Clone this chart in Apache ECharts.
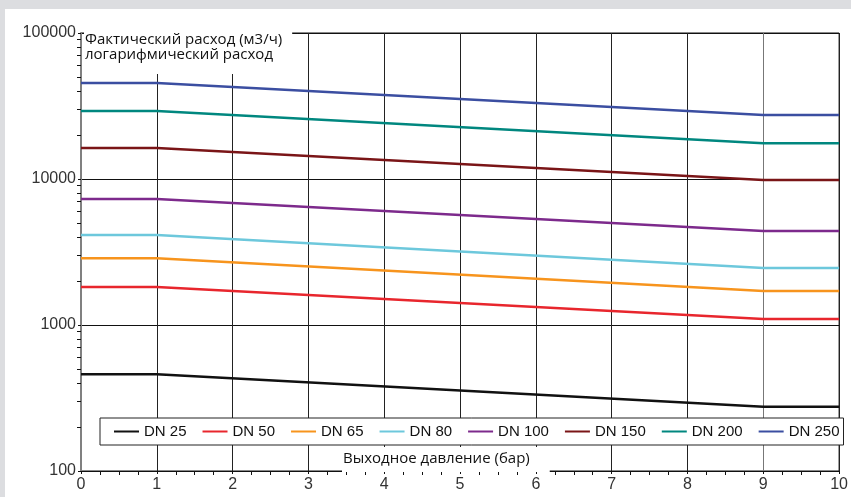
<!DOCTYPE html>
<html>
<head>
<meta charset="utf-8">
<script src="https://cdn.jsdelivr.net/npm/echarts@6/dist/echarts.min.js"></script>
<style>html,body{margin:0;padding:0;background:#dcdde0;}#c{width:851px;height:497px;}</style>
</head>
<body>
<div id="c"></div>
<script>
const pressures = [0, 1, 9, 10];
const seriesNames = ['DN 25', 'DN 50', 'DN 65', 'DN 80', 'DN 100', 'DN 150', 'DN 200', 'DN 250'];
const dn25 = [460, 460, 275, 275];
const dn50 = [1820, 1820, 1100, 1100];
const dn65 = [2870, 2870, 1710, 1710];
const dn80 = [4130, 4130, 2460, 2460];
const dn100 = [7300, 7300, 4400, 4400];
const dn150 = [16300, 16300, 9850, 9850];
const dn200 = [29200, 29200, 17600, 17600];
const dn250 = [45500, 45500, 27400, 27400];
const seriesValues = [dn25, dn50, dn65, dn80, dn100, dn150, dn200, dn250];
const colors = ['#111111', '#e8262d', '#f7941d', '#6dc8dc', '#7d2a8c', '#7a1517', '#00877f', '#3b4ea1'];
const xTicks = [0, 1, 2, 3, 4, 5, 6, 7, 8, 9, 10];
const yTicks = [100, 1000, 10000, 100000];
const yTitle = 'Фактический расход (м3/ч)\nлогарифмический расход';
const xTitle = 'Выходное давление (бар)';

const chart = echarts.init(document.getElementById('c'));
const numFont = 'Liberation Sans';
const txtFont = 'Open Sans';
chart.setOption({
  backgroundColor: '#dcdde0',
  animation: false,
  graphic: [{
    type: 'rect', z: -10, silent: true,
    shape: { x: 5, y: 9, width: 846, height: 488 },
    style: { fill: '#ffffff' }
  }],
  title: [{
    text: yTitle, left: 84, top: 27,
    backgroundColor: '#ffffff', padding: [5, 10, 12, 1],
    textStyle: { fontFamily: txtFont, fontSize: 15, fontWeight: 'normal', color: '#111', lineHeight: 15 }
  }, {
    text: xTitle, left: 342, top: 447,
    backgroundColor: '#ffffff', padding: [3, 20, 5, 1],
    textStyle: { fontFamily: txtFont, fontSize: 15, fontWeight: 'normal', color: '#111', lineHeight: 17 }
  }],
  legend: {
    data: seriesNames,
    left: 100, top: 418, width: 740,
    backgroundColor: '#ffffff', borderColor: '#222', borderWidth: 1,
    padding: [6, 4, 6, 14],
    itemGap: 16, itemWidth: 25, itemHeight: 2, icon: 'rect',
    textStyle: { fontFamily: numFont, fontSize: 15, color: '#111' },
    z: 10
  },
  grid: {
    left: 81, right: 6, top: 33, bottom: 26,
    show: true, borderColor: '#111', borderWidth: 1, backgroundColor: 'transparent'
  },
  xAxis: {
    type: 'value', min: 0, max: 10, interval: 1,
    axisLine: { show: true, lineStyle: { color: '#111', width: 1 } },
    axisTick: { show: true, inside: false, length: 3, lineStyle: { color: '#111' } },
    minorTick: { show: true, splitNumber: 4, length: 4, lineStyle: { color: '#111' } },
    axisLabel: {
      margin: 6, fontFamily: numFont, fontSize: 16, color: '#333',
      formatter: v => (xTicks.indexOf(v) >= 0 ? String(v) : '')
    },
    splitLine: { show: true, lineStyle: { color: ['#222', '#222', '#222', '#222', '#222', '#222', '#222', '#222', '#222', '#777', '#222'], width: 1 } }
  },
  yAxis: {
    type: 'log', logBase: 10, min: 100, max: 100000,
    axisLine: { show: true, lineStyle: { color: '#808080', width: 2 } },
    axisTick: { show: true, inside: false, length: 3, lineStyle: { color: '#111' } },
    minorTick: { show: true, splitNumber: 9, length: 4, lineStyle: { color: '#111' } },
    axisLabel: {
      margin: 5, fontFamily: numFont, fontSize: 16, color: '#333',
      formatter: v => (yTicks.indexOf(v) >= 0 ? String(v) : '')
    },
    splitLine: { show: true, lineStyle: { color: '#111', width: 1 } }
  },
  series: seriesNames.map((n, i) => ({
    name: n, type: 'line', symbol: 'none',
    color: colors[i],
    lineStyle: { color: colors[i], width: 2.5 },
    data: pressures.map((p, j) => [p, seriesValues[i][j]])
  }))
});
</script>
</body>
</html>
